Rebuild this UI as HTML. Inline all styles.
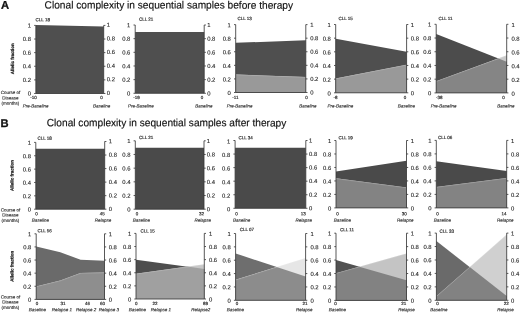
<!DOCTYPE html>
<html lang="en">
<head>
<meta charset="utf-8">
<title>Clonal complexity in sequential samples</title>
<style>
html,body{margin:0;padding:0;background:#fff;}
body{width:520px;height:313px;overflow:hidden;}
svg{display:block;font-family:"Liberation Sans", Arial, Helvetica, sans-serif;text-rendering:geometricPrecision;}
.yt text{font-size:5.9px;fill:#222222;stroke:#222;stroke-width:0.1px;}
.xt text{font-size:4.5px;fill:#222222;stroke:#2a2a2a;stroke-width:0.16px;}
.xl text{font-size:4.5px;font-style:italic;fill:#333333;stroke:#333;stroke-width:0.15px;}
.nm{font-size:4.5px;fill:#333333;stroke:#2a2a2a;stroke-width:0.18px;}
.hd{font-size:11.2px;font-weight:bold;fill:#111;stroke:#111;stroke-width:0.3px;}
.tt{font-size:10.5px;fill:#111;stroke:#111;stroke-width:0.15px;}
.af{font-size:4.5px;font-weight:bold;fill:#222;stroke:#222;stroke-width:0.25px;}
.cd{font-size:4.5px;fill:#333333;stroke:#333;stroke-width:0.15px;}
</style>
</head>
<body>
<svg width="520" height="313" viewBox="0 0 520 313">
<rect width="520" height="313" fill="#ffffff"/>
<g><polygon fill="#4f4f4f" points="35.85,93.5 35.85,25.1 103.7,26.47 103.7,93.5"/><path d="M35.85 25.4V93.5H103.7V25.4M35.85 93.5h-1.7M103.7 93.5h1.7M35.85 79.88h-1.7M103.7 79.88h1.7M35.85 66.26h-1.7M103.7 66.26h1.7M35.85 52.64h-1.7M103.7 52.64h1.7M35.85 39.02h-1.7M103.7 39.02h1.7M35.85 25.4h-1.7M103.7 25.4h1.7" fill="none" stroke="#3a3a3a" stroke-width="0.85"/><g class="yt"><text x="31.05" y="95.6" text-anchor="end" transform="rotate(0.05 31.05 95.6)">0</text><text x="106.8" y="94.9" transform="rotate(0.05 106.8 94.9)">0</text><text x="31.05" y="81.98" text-anchor="end" transform="rotate(0.05 31.05 81.98)">0.2</text><text x="106.8" y="81.28" transform="rotate(0.05 106.8 81.28)">0.2</text><text x="31.05" y="68.36" text-anchor="end" transform="rotate(0.05 31.05 68.36)">0.4</text><text x="106.8" y="67.66" transform="rotate(0.05 106.8 67.66)">0.4</text><text x="31.05" y="54.74" text-anchor="end" transform="rotate(0.05 31.05 54.74)">0.6</text><text x="106.8" y="54.04" transform="rotate(0.05 106.8 54.04)">0.6</text><text x="31.05" y="41.12" text-anchor="end" transform="rotate(0.05 31.05 41.12)">0.8</text><text x="106.8" y="40.42" transform="rotate(0.05 106.8 40.42)">0.8</text><text x="31.05" y="27.5" text-anchor="end" transform="rotate(0.05 31.05 27.5)">1</text><text x="106.8" y="26.8" transform="rotate(0.05 106.8 26.8)">1</text></g><g class="xt"><text x="33.4" y="98.9" text-anchor="middle" transform="rotate(0.05 33.4 98.9)">-10</text><text x="101.5" y="98.9" text-anchor="middle" transform="rotate(0.05 101.5 98.9)">0</text></g><g class="xl"><text x="35.7" y="107.5" text-anchor="middle" transform="rotate(0.05 35.7 107.5)">Pre-Baseline</text><text x="101.7" y="107.5" text-anchor="middle" transform="rotate(0.05 101.7 107.5)">Baseline</text></g><text class="nm" x="35.6" y="21.2" transform="rotate(0.05 35.6 21.2)">CLL 18</text></g>
<g><polygon fill="#4f4f4f" points="135.2,93.3 135.2,31.93 204.2,31.93 204.2,93.3"/><path d="M135.2 25V93.3H204.2V25M135.2 93.3h-1.7M204.2 93.3h1.7M135.2 79.64h-1.7M204.2 79.64h1.7M135.2 65.98h-1.7M204.2 65.98h1.7M135.2 52.32h-1.7M204.2 52.32h1.7M135.2 38.66h-1.7M204.2 38.66h1.7M135.2 25h-1.7M204.2 25h1.7" fill="none" stroke="#3a3a3a" stroke-width="0.85"/><g class="yt"><text x="130.4" y="95.5" text-anchor="end" transform="rotate(0.05 130.4 95.5)">0</text><text x="207.2" y="95.4" transform="rotate(0.05 207.2 95.4)">0</text><text x="130.4" y="81.84" text-anchor="end" transform="rotate(0.05 130.4 81.84)">0.2</text><text x="207.2" y="81.74" transform="rotate(0.05 207.2 81.74)">0.2</text><text x="130.4" y="68.18" text-anchor="end" transform="rotate(0.05 130.4 68.18)">0.4</text><text x="207.2" y="68.08" transform="rotate(0.05 207.2 68.08)">0.4</text><text x="130.4" y="54.52" text-anchor="end" transform="rotate(0.05 130.4 54.52)">0.6</text><text x="207.2" y="54.42" transform="rotate(0.05 207.2 54.42)">0.6</text><text x="130.4" y="40.86" text-anchor="end" transform="rotate(0.05 130.4 40.86)">0.8</text><text x="207.2" y="40.76" transform="rotate(0.05 207.2 40.76)">0.8</text><text x="130.4" y="27.2" text-anchor="end" transform="rotate(0.05 130.4 27.2)">1</text><text x="207.2" y="27.1" transform="rotate(0.05 207.2 27.1)">1</text></g><g class="xt"><text x="136.6" y="98.9" text-anchor="middle" transform="rotate(0.05 136.6 98.9)">-19</text><text x="202" y="98.9" text-anchor="middle" transform="rotate(0.05 202 98.9)">0</text></g><g class="xl"><text x="140.8" y="107.5" text-anchor="middle" transform="rotate(0.05 140.8 107.5)">Pre-Baseline</text><text x="204" y="107.5" text-anchor="middle" transform="rotate(0.05 204 107.5)">Baseline</text></g><text class="nm" x="139" y="20.8" transform="rotate(0.05 139 20.8)">CLL 21</text></g>
<g><polygon fill="#4f4f4f" points="235.7,92.5 235.7,42.86 305.8,40.13 305.8,92.5"/><polygon fill="#c4c4c4" points="235.7,92.5 235.7,74.48 305.8,77.01 305.8,92.5"/><polygon fill="#999999" points="235.7,92.5 235.7,74.48 305.8,77.01 305.8,92.5"/><polyline fill="none" stroke="#ffffff" stroke-opacity="0.22" stroke-width="0.7" points="235.7,74.78 305.8,77.31"/><path d="M235.7 24.6V92.5H305.8V24.6M235.7 92.5h-1.7M305.8 92.5h1.7M235.7 78.92h-1.7M305.8 78.92h1.7M235.7 65.34h-1.7M305.8 65.34h1.7M235.7 51.76h-1.7M305.8 51.76h1.7M235.7 38.18h-1.7M305.8 38.18h1.7M235.7 24.6h-1.7M305.8 24.6h1.7" fill="none" stroke="#3a3a3a" stroke-width="0.85"/><g class="yt"><text x="230.9" y="95.1" text-anchor="end" transform="rotate(0.05 230.9 95.1)">0</text><text x="310.2" y="94.6" transform="rotate(0.05 310.2 94.6)">0</text><text x="230.9" y="81.52" text-anchor="end" transform="rotate(0.05 230.9 81.52)">0.2</text><text x="310.2" y="81.02" transform="rotate(0.05 310.2 81.02)">0.2</text><text x="230.9" y="67.94" text-anchor="end" transform="rotate(0.05 230.9 67.94)">0.4</text><text x="310.2" y="67.44" transform="rotate(0.05 310.2 67.44)">0.4</text><text x="230.9" y="54.36" text-anchor="end" transform="rotate(0.05 230.9 54.36)">0.6</text><text x="310.2" y="53.86" transform="rotate(0.05 310.2 53.86)">0.6</text><text x="230.9" y="40.78" text-anchor="end" transform="rotate(0.05 230.9 40.78)">0.8</text><text x="310.2" y="40.28" transform="rotate(0.05 310.2 40.28)">0.8</text><text x="230.9" y="27.2" text-anchor="end" transform="rotate(0.05 230.9 27.2)">1</text><text x="310.2" y="26.7" transform="rotate(0.05 310.2 26.7)">1</text></g><g class="xt"><text x="235.4" y="98.9" text-anchor="middle" transform="rotate(0.05 235.4 98.9)">-11</text><text x="306.6" y="98.9" text-anchor="middle" transform="rotate(0.05 306.6 98.9)">0</text></g><g class="xl"><text x="239.7" y="107.5" text-anchor="middle" transform="rotate(0.05 239.7 107.5)">Pre-Baseline</text><text x="308" y="107.5" text-anchor="middle" transform="rotate(0.05 308 107.5)">Baseline</text></g><text class="nm" x="237.5" y="19.9" transform="rotate(0.05 237.5 19.9)">CLL 13</text></g>
<g><polygon fill="#4f4f4f" points="335.7,92.8 335.7,38.76 406.6,51.74 406.6,92.8"/><polygon fill="#c4c4c4" points="335.7,92.8 335.7,78.51 406.6,64.71 406.6,92.8"/><polygon fill="#999999" points="335.7,92.8 335.7,78.51 406.6,64.71 406.6,92.8"/><polyline fill="none" stroke="#ffffff" stroke-opacity="0.22" stroke-width="0.7" points="335.7,78.81 406.6,65.01"/><path d="M335.7 24.5V92.8H406.6V24.5M335.7 92.8h-1.7M406.6 92.8h1.7M335.7 79.14h-1.7M406.6 79.14h1.7M335.7 65.48h-1.7M406.6 65.48h1.7M335.7 51.82h-1.7M406.6 51.82h1.7M335.7 38.16h-1.7M406.6 38.16h1.7M335.7 24.5h-1.7M406.6 24.5h1.7" fill="none" stroke="#3a3a3a" stroke-width="0.85"/><g class="yt"><text x="330.9" y="95.4" text-anchor="end" transform="rotate(0.05 330.9 95.4)">0</text><text x="410.8" y="95.2" transform="rotate(0.05 410.8 95.2)">0</text><text x="330.9" y="81.74" text-anchor="end" transform="rotate(0.05 330.9 81.74)">0.2</text><text x="410.8" y="81.54" transform="rotate(0.05 410.8 81.54)">0.2</text><text x="330.9" y="68.08" text-anchor="end" transform="rotate(0.05 330.9 68.08)">0.4</text><text x="410.8" y="67.88" transform="rotate(0.05 410.8 67.88)">0.4</text><text x="330.9" y="54.42" text-anchor="end" transform="rotate(0.05 330.9 54.42)">0.6</text><text x="410.8" y="54.22" transform="rotate(0.05 410.8 54.22)">0.6</text><text x="330.9" y="40.76" text-anchor="end" transform="rotate(0.05 330.9 40.76)">0.8</text><text x="410.8" y="40.56" transform="rotate(0.05 410.8 40.56)">0.8</text><text x="330.9" y="27.1" text-anchor="end" transform="rotate(0.05 330.9 27.1)">1</text><text x="410.8" y="26.9" transform="rotate(0.05 410.8 26.9)">1</text></g><g class="xt"><text x="335.6" y="98.9" text-anchor="middle" transform="rotate(0.05 335.6 98.9)">-8</text><text x="405" y="98.9" text-anchor="middle" transform="rotate(0.05 405 98.9)">0</text></g><g class="xl"><text x="340.3" y="107.5" text-anchor="middle" transform="rotate(0.05 340.3 107.5)">Pre-Baseline</text><text x="406.5" y="107.5" text-anchor="middle" transform="rotate(0.05 406.5 107.5)">Baseline</text></g><text class="nm" x="338.5" y="19.9" transform="rotate(0.05 338.5 19.9)">CLL 15</text></g>
<g><polygon fill="#4c4c4c" points="436.2,92.9 436.2,34.12 506.7,61.64 506.7,92.9"/><polygon fill="#cacaca" points="436.2,92.9 436.2,81.24 506.7,55.36 506.7,92.9"/><polygon fill="#858585" points="436.2,92.9 436.2,81.24 498.41,58.4 506.7,61.64 506.7,92.9"/><polyline fill="none" stroke="#ffffff" stroke-opacity="0.22" stroke-width="0.7" points="436.2,81.54 506.7,55.66"/><path d="M436.2 24.3V92.9H506.7V24.3M436.2 92.9h-1.7M506.7 92.9h1.7M436.2 79.18h-1.7M506.7 79.18h1.7M436.2 65.46h-1.7M506.7 65.46h1.7M436.2 51.74h-1.7M506.7 51.74h1.7M436.2 38.02h-1.7M506.7 38.02h1.7M436.2 24.3h-1.7M506.7 24.3h1.7" fill="none" stroke="#3a3a3a" stroke-width="0.85"/><g class="yt"><text x="431.4" y="95.2" text-anchor="end" transform="rotate(0.05 431.4 95.2)">0</text><text x="511.4" y="95.7" transform="rotate(0.05 511.4 95.7)">0</text><text x="431.4" y="81.48" text-anchor="end" transform="rotate(0.05 431.4 81.48)">0.2</text><text x="511.4" y="81.98" transform="rotate(0.05 511.4 81.98)">0.2</text><text x="431.4" y="67.76" text-anchor="end" transform="rotate(0.05 431.4 67.76)">0.4</text><text x="511.4" y="68.26" transform="rotate(0.05 511.4 68.26)">0.4</text><text x="431.4" y="54.04" text-anchor="end" transform="rotate(0.05 431.4 54.04)">0.6</text><text x="511.4" y="54.54" transform="rotate(0.05 511.4 54.54)">0.6</text><text x="431.4" y="40.32" text-anchor="end" transform="rotate(0.05 431.4 40.32)">0.8</text><text x="511.4" y="40.82" transform="rotate(0.05 511.4 40.82)">0.8</text><text x="431.4" y="26.6" text-anchor="end" transform="rotate(0.05 431.4 26.6)">1</text><text x="511.4" y="27.1" transform="rotate(0.05 511.4 27.1)">1</text></g><g class="xt"><text x="439.2" y="98.9" text-anchor="middle" transform="rotate(0.05 439.2 98.9)">-38</text><text x="503.6" y="98.9" text-anchor="middle" transform="rotate(0.05 503.6 98.9)">0</text></g><g class="xl"><text x="443.7" y="107.5" text-anchor="middle" transform="rotate(0.05 443.7 107.5)">Pre-Baseline</text><text x="506" y="107.5" text-anchor="middle" transform="rotate(0.05 506 107.5)">Baseline</text></g><text class="nm" x="438.5" y="19.9" transform="rotate(0.05 438.5 19.9)">CLL 11</text></g>
<g><polygon fill="#4a4a4a" points="35.8,209.2 35.8,148.81 104.7,148.81 104.7,209.2"/><path d="M35.8 142.4V209.2H104.7V141.5M35.8 209.2h-1.7M104.7 209.2h1.7M35.8 195.84h-1.7M104.7 195.66h1.7M35.8 182.48h-1.7M104.7 182.12h1.7M35.8 169.12h-1.7M104.7 168.58h1.7M35.8 155.76h-1.7M104.7 155.04h1.7M35.8 142.4h-1.7M104.7 141.5h1.7" fill="none" stroke="#3a3a3a" stroke-width="0.85"/><g class="yt"><text x="31" y="211.6" text-anchor="end" transform="rotate(0.05 31 211.6)">0</text><text x="108.8" y="211" transform="rotate(0.05 108.8 211)">0</text><text x="31" y="198.24" text-anchor="end" transform="rotate(0.05 31 198.24)">0.2</text><text x="108.8" y="197.46" transform="rotate(0.05 108.8 197.46)">0.2</text><text x="31" y="184.88" text-anchor="end" transform="rotate(0.05 31 184.88)">0.4</text><text x="108.8" y="183.92" transform="rotate(0.05 108.8 183.92)">0.4</text><text x="31" y="171.52" text-anchor="end" transform="rotate(0.05 31 171.52)">0.6</text><text x="108.8" y="170.38" transform="rotate(0.05 108.8 170.38)">0.6</text><text x="31" y="158.16" text-anchor="end" transform="rotate(0.05 31 158.16)">0.8</text><text x="108.8" y="156.84" transform="rotate(0.05 108.8 156.84)">0.8</text><text x="31" y="144.8" text-anchor="end" transform="rotate(0.05 31 144.8)">1</text><text x="108.8" y="143.3" transform="rotate(0.05 108.8 143.3)">1</text></g><g class="xt"><text x="36.4" y="215.2" text-anchor="middle" transform="rotate(0.05 36.4 215.2)">0</text><text x="102.2" y="215.2" text-anchor="middle" transform="rotate(0.05 102.2 215.2)">45</text></g><g class="xl"><text x="40.5" y="221.7" text-anchor="middle" transform="rotate(0.05 40.5 221.7)">Baseline</text><text x="103" y="221.7" text-anchor="middle" transform="rotate(0.05 103 221.7)">Relapse</text></g><text class="nm" x="37.5" y="139.7" transform="rotate(0.05 37.5 139.7)">CLL 18</text></g>
<g><polygon fill="#4a4a4a" points="135.3,209.2 135.3,147.79 204,147.79 204,209.2"/><path d="M135.3 140.8V209.2H204V140.8M135.3 209.2h-1.7M204 209.2h1.7M135.3 195.52h-1.7M204 195.52h1.7M135.3 181.84h-1.7M204 181.84h1.7M135.3 168.16h-1.7M204 168.16h1.7M135.3 154.48h-1.7M204 154.48h1.7M135.3 140.8h-1.7M204 140.8h1.7" fill="none" stroke="#3a3a3a" stroke-width="0.85"/><g class="yt"><text x="130.5" y="211.5" text-anchor="end" transform="rotate(0.05 130.5 211.5)">0</text><text x="206.8" y="211.3" transform="rotate(0.05 206.8 211.3)">0</text><text x="130.5" y="197.82" text-anchor="end" transform="rotate(0.05 130.5 197.82)">0.2</text><text x="206.8" y="197.62" transform="rotate(0.05 206.8 197.62)">0.2</text><text x="130.5" y="184.14" text-anchor="end" transform="rotate(0.05 130.5 184.14)">0.4</text><text x="206.8" y="183.94" transform="rotate(0.05 206.8 183.94)">0.4</text><text x="130.5" y="170.46" text-anchor="end" transform="rotate(0.05 130.5 170.46)">0.6</text><text x="206.8" y="170.26" transform="rotate(0.05 206.8 170.26)">0.6</text><text x="130.5" y="156.78" text-anchor="end" transform="rotate(0.05 130.5 156.78)">0.8</text><text x="206.8" y="156.58" transform="rotate(0.05 206.8 156.58)">0.8</text><text x="130.5" y="143.1" text-anchor="end" transform="rotate(0.05 130.5 143.1)">1</text><text x="206.8" y="142.9" transform="rotate(0.05 206.8 142.9)">1</text></g><g class="xt"><text x="137.1" y="215.2" text-anchor="middle" transform="rotate(0.05 137.1 215.2)">0</text><text x="201.5" y="215.2" text-anchor="middle" transform="rotate(0.05 201.5 215.2)">32</text></g><g class="xl"><text x="141.5" y="221.7" text-anchor="middle" transform="rotate(0.05 141.5 221.7)">Baseline</text><text x="202.7" y="221.7" text-anchor="middle" transform="rotate(0.05 202.7 221.7)">Relapse</text></g><text class="nm" x="139" y="139" transform="rotate(0.05 139 139)">CLL 21</text></g>
<g><polygon fill="#4a4a4a" points="235.1,208.3 235.1,147.79 305.8,147.79 305.8,208.3"/><path d="M235.1 140.5V208.3H305.8V140.5M235.1 208.3h-1.7M305.8 208.3h1.7M235.1 194.74h-1.7M305.8 194.74h1.7M235.1 181.18h-1.7M305.8 181.18h1.7M235.1 167.62h-1.7M305.8 167.62h1.7M235.1 154.06h-1.7M305.8 154.06h1.7M235.1 140.5h-1.7M305.8 140.5h1.7" fill="none" stroke="#3a3a3a" stroke-width="0.85"/><g class="yt"><text x="230.3" y="211.3" text-anchor="end" transform="rotate(0.05 230.3 211.3)">0</text><text x="309" y="210.2" transform="rotate(0.05 309 210.2)">0</text><text x="230.3" y="197.74" text-anchor="end" transform="rotate(0.05 230.3 197.74)">0.2</text><text x="309" y="196.64" transform="rotate(0.05 309 196.64)">0.2</text><text x="230.3" y="184.18" text-anchor="end" transform="rotate(0.05 230.3 184.18)">0.4</text><text x="309" y="183.08" transform="rotate(0.05 309 183.08)">0.4</text><text x="230.3" y="170.62" text-anchor="end" transform="rotate(0.05 230.3 170.62)">0.6</text><text x="309" y="169.52" transform="rotate(0.05 309 169.52)">0.6</text><text x="230.3" y="157.06" text-anchor="end" transform="rotate(0.05 230.3 157.06)">0.8</text><text x="309" y="155.96" transform="rotate(0.05 309 155.96)">0.8</text><text x="230.3" y="143.5" text-anchor="end" transform="rotate(0.05 230.3 143.5)">1</text><text x="309" y="142.4" transform="rotate(0.05 309 142.4)">1</text></g><g class="xt"><text x="236.4" y="215.2" text-anchor="middle" transform="rotate(0.05 236.4 215.2)">0</text><text x="303.3" y="215.2" text-anchor="middle" transform="rotate(0.05 303.3 215.2)">13</text></g><g class="xl"><text x="241.7" y="221.7" text-anchor="middle" transform="rotate(0.05 241.7 221.7)">Baseline</text><text x="303.8" y="221.7" text-anchor="middle" transform="rotate(0.05 303.8 221.7)">Relapse</text></g><text class="nm" x="238.5" y="139.2" transform="rotate(0.05 238.5 139.2)">CLL 34</text></g>
<g><polygon fill="#4a4a4a" points="336,207.9 336,171.56 406.5,160.69 406.5,207.9"/><polygon fill="#c4c4c4" points="336,207.9 336,178.34 406.5,187.51 406.5,207.9"/><polygon fill="#838383" points="336,207.9 336,178.34 406.5,187.51 406.5,207.9"/><polyline fill="none" stroke="#ffffff" stroke-opacity="0.22" stroke-width="0.7" points="336,178.65 406.5,187.81"/><path d="M336 140.5V207.9H406.5V140.5M336 207.9h-1.7M406.5 207.9h1.7M336 194.42h-1.7M406.5 194.42h1.7M336 180.94h-1.7M406.5 180.94h1.7M336 167.46h-1.7M406.5 167.46h1.7M336 153.98h-1.7M406.5 153.98h1.7M336 140.5h-1.7M406.5 140.5h1.7" fill="none" stroke="#3a3a3a" stroke-width="0.85"/><g class="yt"><text x="331.2" y="210.5" text-anchor="end" transform="rotate(0.05 331.2 210.5)">0</text><text x="410.7" y="210.4" transform="rotate(0.05 410.7 210.4)">0</text><text x="331.2" y="197.02" text-anchor="end" transform="rotate(0.05 331.2 197.02)">0.2</text><text x="410.7" y="196.92" transform="rotate(0.05 410.7 196.92)">0.2</text><text x="331.2" y="183.54" text-anchor="end" transform="rotate(0.05 331.2 183.54)">0.4</text><text x="410.7" y="183.44" transform="rotate(0.05 410.7 183.44)">0.4</text><text x="331.2" y="170.06" text-anchor="end" transform="rotate(0.05 331.2 170.06)">0.6</text><text x="410.7" y="169.96" transform="rotate(0.05 410.7 169.96)">0.6</text><text x="331.2" y="156.58" text-anchor="end" transform="rotate(0.05 331.2 156.58)">0.8</text><text x="410.7" y="156.48" transform="rotate(0.05 410.7 156.48)">0.8</text><text x="331.2" y="143.1" text-anchor="end" transform="rotate(0.05 331.2 143.1)">1</text><text x="410.7" y="143" transform="rotate(0.05 410.7 143)">1</text></g><g class="xt"><text x="337.4" y="215.2" text-anchor="middle" transform="rotate(0.05 337.4 215.2)">0</text><text x="404.3" y="215.2" text-anchor="middle" transform="rotate(0.05 404.3 215.2)">30</text></g><g class="xl"><text x="342.3" y="221.7" text-anchor="middle" transform="rotate(0.05 342.3 221.7)">Baseline</text><text x="405.3" y="221.7" text-anchor="middle" transform="rotate(0.05 405.3 221.7)">Relapse</text></g><text class="nm" x="338.4" y="139.2" transform="rotate(0.05 338.4 139.2)">CLL 19</text></g>
<g><polygon fill="#4a4a4a" points="436.3,207.9 436.3,161.37 506.7,170.88 506.7,207.9"/><polygon fill="#c4c4c4" points="436.3,207.9 436.3,187.04 506.7,178.01 506.7,207.9"/><polygon fill="#838383" points="436.3,207.9 436.3,187.04 506.7,178.01 506.7,207.9"/><polyline fill="none" stroke="#ffffff" stroke-opacity="0.22" stroke-width="0.7" points="436.3,187.34 506.7,178.31"/><path d="M436.3 140.4V207.9H506.7V140.4M436.3 207.9h-1.7M506.7 207.9h1.7M436.3 194.4h-1.7M506.7 194.4h1.7M436.3 180.9h-1.7M506.7 180.9h1.7M436.3 167.4h-1.7M506.7 167.4h1.7M436.3 153.9h-1.7M506.7 153.9h1.7M436.3 140.4h-1.7M506.7 140.4h1.7" fill="none" stroke="#3a3a3a" stroke-width="0.85"/><g class="yt"><text x="431.5" y="210.3" text-anchor="end" transform="rotate(0.05 431.5 210.3)">0</text><text x="511" y="210.4" transform="rotate(0.05 511 210.4)">0</text><text x="431.5" y="196.8" text-anchor="end" transform="rotate(0.05 431.5 196.8)">0.2</text><text x="511" y="196.9" transform="rotate(0.05 511 196.9)">0.2</text><text x="431.5" y="183.3" text-anchor="end" transform="rotate(0.05 431.5 183.3)">0.4</text><text x="511" y="183.4" transform="rotate(0.05 511 183.4)">0.4</text><text x="431.5" y="169.8" text-anchor="end" transform="rotate(0.05 431.5 169.8)">0.6</text><text x="511" y="169.9" transform="rotate(0.05 511 169.9)">0.6</text><text x="431.5" y="156.3" text-anchor="end" transform="rotate(0.05 431.5 156.3)">0.8</text><text x="511" y="156.4" transform="rotate(0.05 511 156.4)">0.8</text><text x="431.5" y="142.8" text-anchor="end" transform="rotate(0.05 431.5 142.8)">1</text><text x="511" y="142.9" transform="rotate(0.05 511 142.9)">1</text></g><g class="xt"><text x="437.6" y="215.2" text-anchor="middle" transform="rotate(0.05 437.6 215.2)">0</text><text x="504" y="215.2" text-anchor="middle" transform="rotate(0.05 504 215.2)">14</text></g><g class="xl"><text x="442.3" y="221.7" text-anchor="middle" transform="rotate(0.05 442.3 221.7)">Baseline</text><text x="505.3" y="221.7" text-anchor="middle" transform="rotate(0.05 505.3 221.7)">Relapse</text></g><text class="nm" x="438" y="139" transform="rotate(0.05 438 139)">CLL 06</text></g>
<g><polygon fill="#6a6a6a" points="36.2,299.4 36.2,246.6 60.31,252.21 80.59,259.8 104.5,260.79 104.5,299.4"/><polygon fill="#cccccc" points="36.2,299.4 36.2,286.4 60.31,280.59 80.59,273 104.5,272.54 104.5,299.4"/><polygon fill="#8e8e8e" points="36.2,299.4 36.2,286.4 60.31,280.59 80.59,273 104.5,272.54 104.5,299.4"/><polyline fill="none" stroke="#ffffff" stroke-opacity="0.22" stroke-width="0.7" points="36.2,286.7 60.31,280.89 80.59,273.3 104.5,272.84"/><path d="M36.2 233.8V299.4H104.5V233.8M36.2 299.4h-1.7M104.5 299.4h1.7M36.2 286.28h-1.7M104.5 286.28h1.7M36.2 273.16h-1.7M104.5 273.16h1.7M36.2 260.04h-1.7M104.5 260.04h1.7M36.2 246.92h-1.7M104.5 246.92h1.7M36.2 233.8h-1.7M104.5 233.8h1.7" fill="none" stroke="#3a3a3a" stroke-width="0.85"/><g class="yt"><text x="31.4" y="301.8" text-anchor="end" transform="rotate(0.05 31.4 301.8)">0</text><text x="108.7" y="301.8" transform="rotate(0.05 108.7 301.8)">0</text><text x="31.4" y="288.68" text-anchor="end" transform="rotate(0.05 31.4 288.68)">0.2</text><text x="108.7" y="288.68" transform="rotate(0.05 108.7 288.68)">0.2</text><text x="31.4" y="275.56" text-anchor="end" transform="rotate(0.05 31.4 275.56)">0.4</text><text x="108.7" y="275.56" transform="rotate(0.05 108.7 275.56)">0.4</text><text x="31.4" y="262.44" text-anchor="end" transform="rotate(0.05 31.4 262.44)">0.6</text><text x="108.7" y="262.44" transform="rotate(0.05 108.7 262.44)">0.6</text><text x="31.4" y="249.32" text-anchor="end" transform="rotate(0.05 31.4 249.32)">0.8</text><text x="108.7" y="249.32" transform="rotate(0.05 108.7 249.32)">0.8</text><text x="31.4" y="236.2" text-anchor="end" transform="rotate(0.05 31.4 236.2)">1</text><text x="108.7" y="236.2" transform="rotate(0.05 108.7 236.2)">1</text></g><g class="xt"><text x="37" y="305" text-anchor="middle" transform="rotate(0.05 37 305)">0</text><text x="63.1" y="305" text-anchor="middle" transform="rotate(0.05 63.1 305)">31</text><text x="87.5" y="305" text-anchor="middle" transform="rotate(0.05 87.5 305)">46</text><text x="102.5" y="305" text-anchor="middle" transform="rotate(0.05 102.5 305)">60</text></g><g class="xl"><text x="37.5" y="311.2" text-anchor="middle" transform="rotate(0.05 37.5 311.2)">Baseline</text><text x="62" y="311.2" text-anchor="middle" transform="rotate(0.05 62 311.2)">Relapse 1</text><text x="86.2" y="311.2" text-anchor="middle" transform="rotate(0.05 86.2 311.2)">Relapse 2</text><text x="109" y="311.2" text-anchor="middle" transform="rotate(0.05 109 311.2)">Relapse 3</text></g><text class="nm" x="37.5" y="232.2" transform="rotate(0.05 37.5 232.2)">CLL 56</text></g>
<g><polygon fill="#4e4e4e" points="136,299 136,259.67 204.3,268.91 204.3,299"/><polygon fill="#c8c8c8" points="136,299 136,273.73 204.3,264.29 204.3,299"/><polygon fill="#a0a0a0" points="136,299 136,273.73 187.41,266.62 204.3,268.91 204.3,299"/><polyline fill="none" stroke="#ffffff" stroke-opacity="0.22" stroke-width="0.7" points="136,274.03 204.3,264.59"/><path d="M136 233.4V299H204.3V233.4M136 299h-1.7M204.3 299h1.7M136 285.88h-1.7M204.3 285.88h1.7M136 272.76h-1.7M204.3 272.76h1.7M136 259.64h-1.7M204.3 259.64h1.7M136 246.52h-1.7M204.3 246.52h1.7M136 233.4h-1.7M204.3 233.4h1.7" fill="none" stroke="#3a3a3a" stroke-width="0.85"/><g class="yt"><text x="131.2" y="301.4" text-anchor="end" transform="rotate(0.05 131.2 301.4)">0</text><text x="208.9" y="301.4" transform="rotate(0.05 208.9 301.4)">0</text><text x="131.2" y="288.28" text-anchor="end" transform="rotate(0.05 131.2 288.28)">0.2</text><text x="208.9" y="288.28" transform="rotate(0.05 208.9 288.28)">0.2</text><text x="131.2" y="275.16" text-anchor="end" transform="rotate(0.05 131.2 275.16)">0.4</text><text x="208.9" y="275.16" transform="rotate(0.05 208.9 275.16)">0.4</text><text x="131.2" y="262.04" text-anchor="end" transform="rotate(0.05 131.2 262.04)">0.6</text><text x="208.9" y="262.04" transform="rotate(0.05 208.9 262.04)">0.6</text><text x="131.2" y="248.92" text-anchor="end" transform="rotate(0.05 131.2 248.92)">0.8</text><text x="208.9" y="248.92" transform="rotate(0.05 208.9 248.92)">0.8</text><text x="131.2" y="235.8" text-anchor="end" transform="rotate(0.05 131.2 235.8)">1</text><text x="208.9" y="235.8" transform="rotate(0.05 208.9 235.8)">1</text></g><g class="xt"><text x="136.2" y="305" text-anchor="middle" transform="rotate(0.05 136.2 305)">0</text><text x="155.1" y="305" text-anchor="middle" transform="rotate(0.05 155.1 305)">22</text><text x="205.5" y="305" text-anchor="middle" transform="rotate(0.05 205.5 305)">89</text></g><g class="xl"><text x="137.5" y="311.2" text-anchor="middle" transform="rotate(0.05 137.5 311.2)">Baseline</text><text x="161" y="311.2" text-anchor="middle" transform="rotate(0.05 161 311.2)">Relapse 1</text><text x="200.8" y="311.2" text-anchor="middle" transform="rotate(0.05 200.8 311.2)">Relapse2</text></g><text class="nm" x="140.5" y="232.6" transform="rotate(0.05 140.5 232.6)">CLL 15</text></g>
<g><polygon fill="#6e6e6e" points="235.6,300.3 235.6,253.4 305.6,276.5 305.6,300.3"/><polygon fill="#e6e6e6" points="235.6,300.3 235.6,279.8 305.6,257.89 305.6,300.3"/><polygon fill="#8c8c8c" points="235.6,300.3 235.6,279.8 276.66,266.95 305.6,276.5 305.6,300.3"/><polyline fill="none" stroke="#ffffff" stroke-opacity="0.22" stroke-width="0.7" points="235.6,280.1 305.6,258.19"/><path d="M235.6 233.5V300.3H305.6V233.5M235.6 300.3h-1.7M305.6 300.3h1.7M235.6 286.94h-1.7M305.6 286.94h1.7M235.6 273.58h-1.7M305.6 273.58h1.7M235.6 260.22h-1.7M305.6 260.22h1.7M235.6 246.86h-1.7M305.6 246.86h1.7M235.6 233.5h-1.7M305.6 233.5h1.7" fill="none" stroke="#3a3a3a" stroke-width="0.85"/><g class="yt"><text x="230.8" y="302.7" text-anchor="end" transform="rotate(0.05 230.8 302.7)">0</text><text x="310.4" y="302.7" transform="rotate(0.05 310.4 302.7)">0</text><text x="230.8" y="289.34" text-anchor="end" transform="rotate(0.05 230.8 289.34)">0.2</text><text x="310.4" y="289.34" transform="rotate(0.05 310.4 289.34)">0.2</text><text x="230.8" y="275.98" text-anchor="end" transform="rotate(0.05 230.8 275.98)">0.4</text><text x="310.4" y="275.98" transform="rotate(0.05 310.4 275.98)">0.4</text><text x="230.8" y="262.62" text-anchor="end" transform="rotate(0.05 230.8 262.62)">0.6</text><text x="310.4" y="262.62" transform="rotate(0.05 310.4 262.62)">0.6</text><text x="230.8" y="249.26" text-anchor="end" transform="rotate(0.05 230.8 249.26)">0.8</text><text x="310.4" y="249.26" transform="rotate(0.05 310.4 249.26)">0.8</text><text x="230.8" y="235.9" text-anchor="end" transform="rotate(0.05 230.8 235.9)">1</text><text x="310.4" y="235.9" transform="rotate(0.05 310.4 235.9)">1</text></g><g class="xt"><text x="237" y="305" text-anchor="middle" transform="rotate(0.05 237 305)">0</text><text x="305" y="305" text-anchor="middle" transform="rotate(0.05 305 305)">21</text></g><g class="xl"><text x="235.5" y="311.2" text-anchor="middle" transform="rotate(0.05 235.5 311.2)">Baseline</text><text x="304.2" y="311.2" text-anchor="middle" transform="rotate(0.05 304.2 311.2)">Relapse</text></g><text class="nm" x="239.7" y="231.1" transform="rotate(0.05 239.7 231.1)">CLL 07</text></g>
<g><polygon fill="#525252" points="336,300.4 336,260 406.5,280.26 406.5,300.4"/><polygon fill="#c4c4c4" points="336,300.4 336,273.2 406.5,253.4 406.5,300.4"/><polygon fill="#828282" points="336,300.4 336,273.2 359.23,266.68 406.5,280.26 406.5,300.4"/><polyline fill="none" stroke="#ffffff" stroke-opacity="0.22" stroke-width="0.7" points="336,273.5 406.5,253.7"/><path d="M336 233.2V300.4H406.5V233.2M336 300.4h-1.7M406.5 300.4h1.7M336 286.96h-1.7M406.5 286.96h1.7M336 273.52h-1.7M406.5 273.52h1.7M336 260.08h-1.7M406.5 260.08h1.7M336 246.64h-1.7M406.5 246.64h1.7M336 233.2h-1.7M406.5 233.2h1.7" fill="none" stroke="#3a3a3a" stroke-width="0.85"/><g class="yt"><text x="331.2" y="302.8" text-anchor="end" transform="rotate(0.05 331.2 302.8)">0</text><text x="410.7" y="302.8" transform="rotate(0.05 410.7 302.8)">0</text><text x="331.2" y="289.36" text-anchor="end" transform="rotate(0.05 331.2 289.36)">0.2</text><text x="410.7" y="289.36" transform="rotate(0.05 410.7 289.36)">0.2</text><text x="331.2" y="275.92" text-anchor="end" transform="rotate(0.05 331.2 275.92)">0.4</text><text x="410.7" y="275.92" transform="rotate(0.05 410.7 275.92)">0.4</text><text x="331.2" y="262.48" text-anchor="end" transform="rotate(0.05 331.2 262.48)">0.6</text><text x="410.7" y="262.48" transform="rotate(0.05 410.7 262.48)">0.6</text><text x="331.2" y="249.04" text-anchor="end" transform="rotate(0.05 331.2 249.04)">0.8</text><text x="410.7" y="249.04" transform="rotate(0.05 410.7 249.04)">0.8</text><text x="331.2" y="235.6" text-anchor="end" transform="rotate(0.05 331.2 235.6)">1</text><text x="410.7" y="235.6" transform="rotate(0.05 410.7 235.6)">1</text></g><g class="xt"><text x="335.6" y="305" text-anchor="middle" transform="rotate(0.05 335.6 305)">0</text><text x="403.7" y="305" text-anchor="middle" transform="rotate(0.05 403.7 305)">21</text></g><g class="xl"><text x="337.5" y="311.2" text-anchor="middle" transform="rotate(0.05 337.5 311.2)">Baseline</text><text x="406.4" y="311.2" text-anchor="middle" transform="rotate(0.05 406.4 311.2)">Relapse</text></g><text class="nm" x="340" y="231.3" transform="rotate(0.05 340 231.3)">CLL 11</text></g>
<g><polygon fill="#6a6a6a" points="436.4,300.3 436.4,241.06 506.7,295.97 506.7,300.3"/><polygon fill="#d0d0d0" points="436.4,300.3 436.4,296.3 506.7,234.59 506.7,300.3"/><polygon fill="#828282" points="436.4,300.3 436.4,296.3 469.7,267.07 506.7,295.97 506.7,300.3"/><polyline fill="none" stroke="#ffffff" stroke-opacity="0.22" stroke-width="0.7" points="436.4,296.6 506.7,234.89"/><path d="M436.4 233.1V300.3H506.7V233.1M436.4 300.3h-1.7M506.7 300.3h1.7M436.4 286.86h-1.7M506.7 286.86h1.7M436.4 273.42h-1.7M506.7 273.42h1.7M436.4 259.98h-1.7M506.7 259.98h1.7M436.4 246.54h-1.7M506.7 246.54h1.7M436.4 233.1h-1.7M506.7 233.1h1.7" fill="none" stroke="#3a3a3a" stroke-width="0.85"/><g class="yt"><text x="431.6" y="302.7" text-anchor="end" transform="rotate(0.05 431.6 302.7)">0</text><text x="511" y="302.7" transform="rotate(0.05 511 302.7)">0</text><text x="431.6" y="289.26" text-anchor="end" transform="rotate(0.05 431.6 289.26)">0.2</text><text x="511" y="289.26" transform="rotate(0.05 511 289.26)">0.2</text><text x="431.6" y="275.82" text-anchor="end" transform="rotate(0.05 431.6 275.82)">0.4</text><text x="511" y="275.82" transform="rotate(0.05 511 275.82)">0.4</text><text x="431.6" y="262.38" text-anchor="end" transform="rotate(0.05 431.6 262.38)">0.6</text><text x="511" y="262.38" transform="rotate(0.05 511 262.38)">0.6</text><text x="431.6" y="248.94" text-anchor="end" transform="rotate(0.05 431.6 248.94)">0.8</text><text x="511" y="248.94" transform="rotate(0.05 511 248.94)">0.8</text><text x="431.6" y="235.5" text-anchor="end" transform="rotate(0.05 431.6 235.5)">1</text><text x="511" y="235.5" transform="rotate(0.05 511 235.5)">1</text></g><g class="xt"><text x="437.6" y="305" text-anchor="middle" transform="rotate(0.05 437.6 305)">0</text><text x="506.3" y="305" text-anchor="middle" transform="rotate(0.05 506.3 305)">22</text></g><g class="xl"><text x="439" y="311.2" text-anchor="middle" transform="rotate(0.05 439 311.2)">Baseline</text><text x="505.5" y="311.2" text-anchor="middle" transform="rotate(0.05 505.5 311.2)">Relapse</text></g><text class="nm" x="439.6" y="232.7" transform="rotate(0.05 439.6 232.7)">CLL 33</text></g>
<text class="hd" x="0.9" y="8.7" transform="rotate(0.05 0.9 8.7)">A</text>
<text class="tt" x="44.6" y="8.45" textLength="248.5" lengthAdjust="spacingAndGlyphs" transform="rotate(0.05 44.6 8.45)">Clonal complexity in sequential samples before therapy</text>
<text class="hd" x="0.4" y="126.9" transform="rotate(0.05 0.4 126.9)">B</text>
<text class="tt" x="46.8" y="126.2" textLength="239.5" lengthAdjust="spacingAndGlyphs" transform="rotate(0.05 46.8 126.2)">Clonal complexity in sequential samples after therapy</text>
<text class="af" transform="translate(14 58.75) rotate(-89.95)" text-anchor="middle">Allelic fraction</text>
<text class="af" transform="translate(13.6 175.6) rotate(-89.95)" text-anchor="middle">Allelic fraction</text>
<text class="af" transform="translate(13.6 266.2) rotate(-89.95)" text-anchor="middle">Allelic fraction</text>
<text class="cd" x="10.5" y="94.1" text-anchor="middle" transform="rotate(0.05 10.5 94.1)">Course of</text>
<text class="cd" x="10.5" y="99.4" text-anchor="middle" transform="rotate(0.05 10.5 99.4)">Disease</text>
<text class="cd" x="10.5" y="104.8" text-anchor="middle" transform="rotate(0.05 10.5 104.8)">(months)</text>
<text class="cd" x="10.5" y="211.6" text-anchor="middle" transform="rotate(0.05 10.5 211.6)">Course of</text>
<text class="cd" x="10.5" y="216.6" text-anchor="middle" transform="rotate(0.05 10.5 216.6)">Disease</text>
<text class="cd" x="10.5" y="222.1" text-anchor="middle" transform="rotate(0.05 10.5 222.1)">(months)</text>
<text class="cd" x="10.5" y="298.6" text-anchor="middle" transform="rotate(0.05 10.5 298.6)">Course of</text>
<text class="cd" x="10.5" y="303.6" text-anchor="middle" transform="rotate(0.05 10.5 303.6)">Disease</text>
<text class="cd" x="10.5" y="309.1" text-anchor="middle" transform="rotate(0.05 10.5 309.1)">(months)</text>
</svg>
</body>
</html>
